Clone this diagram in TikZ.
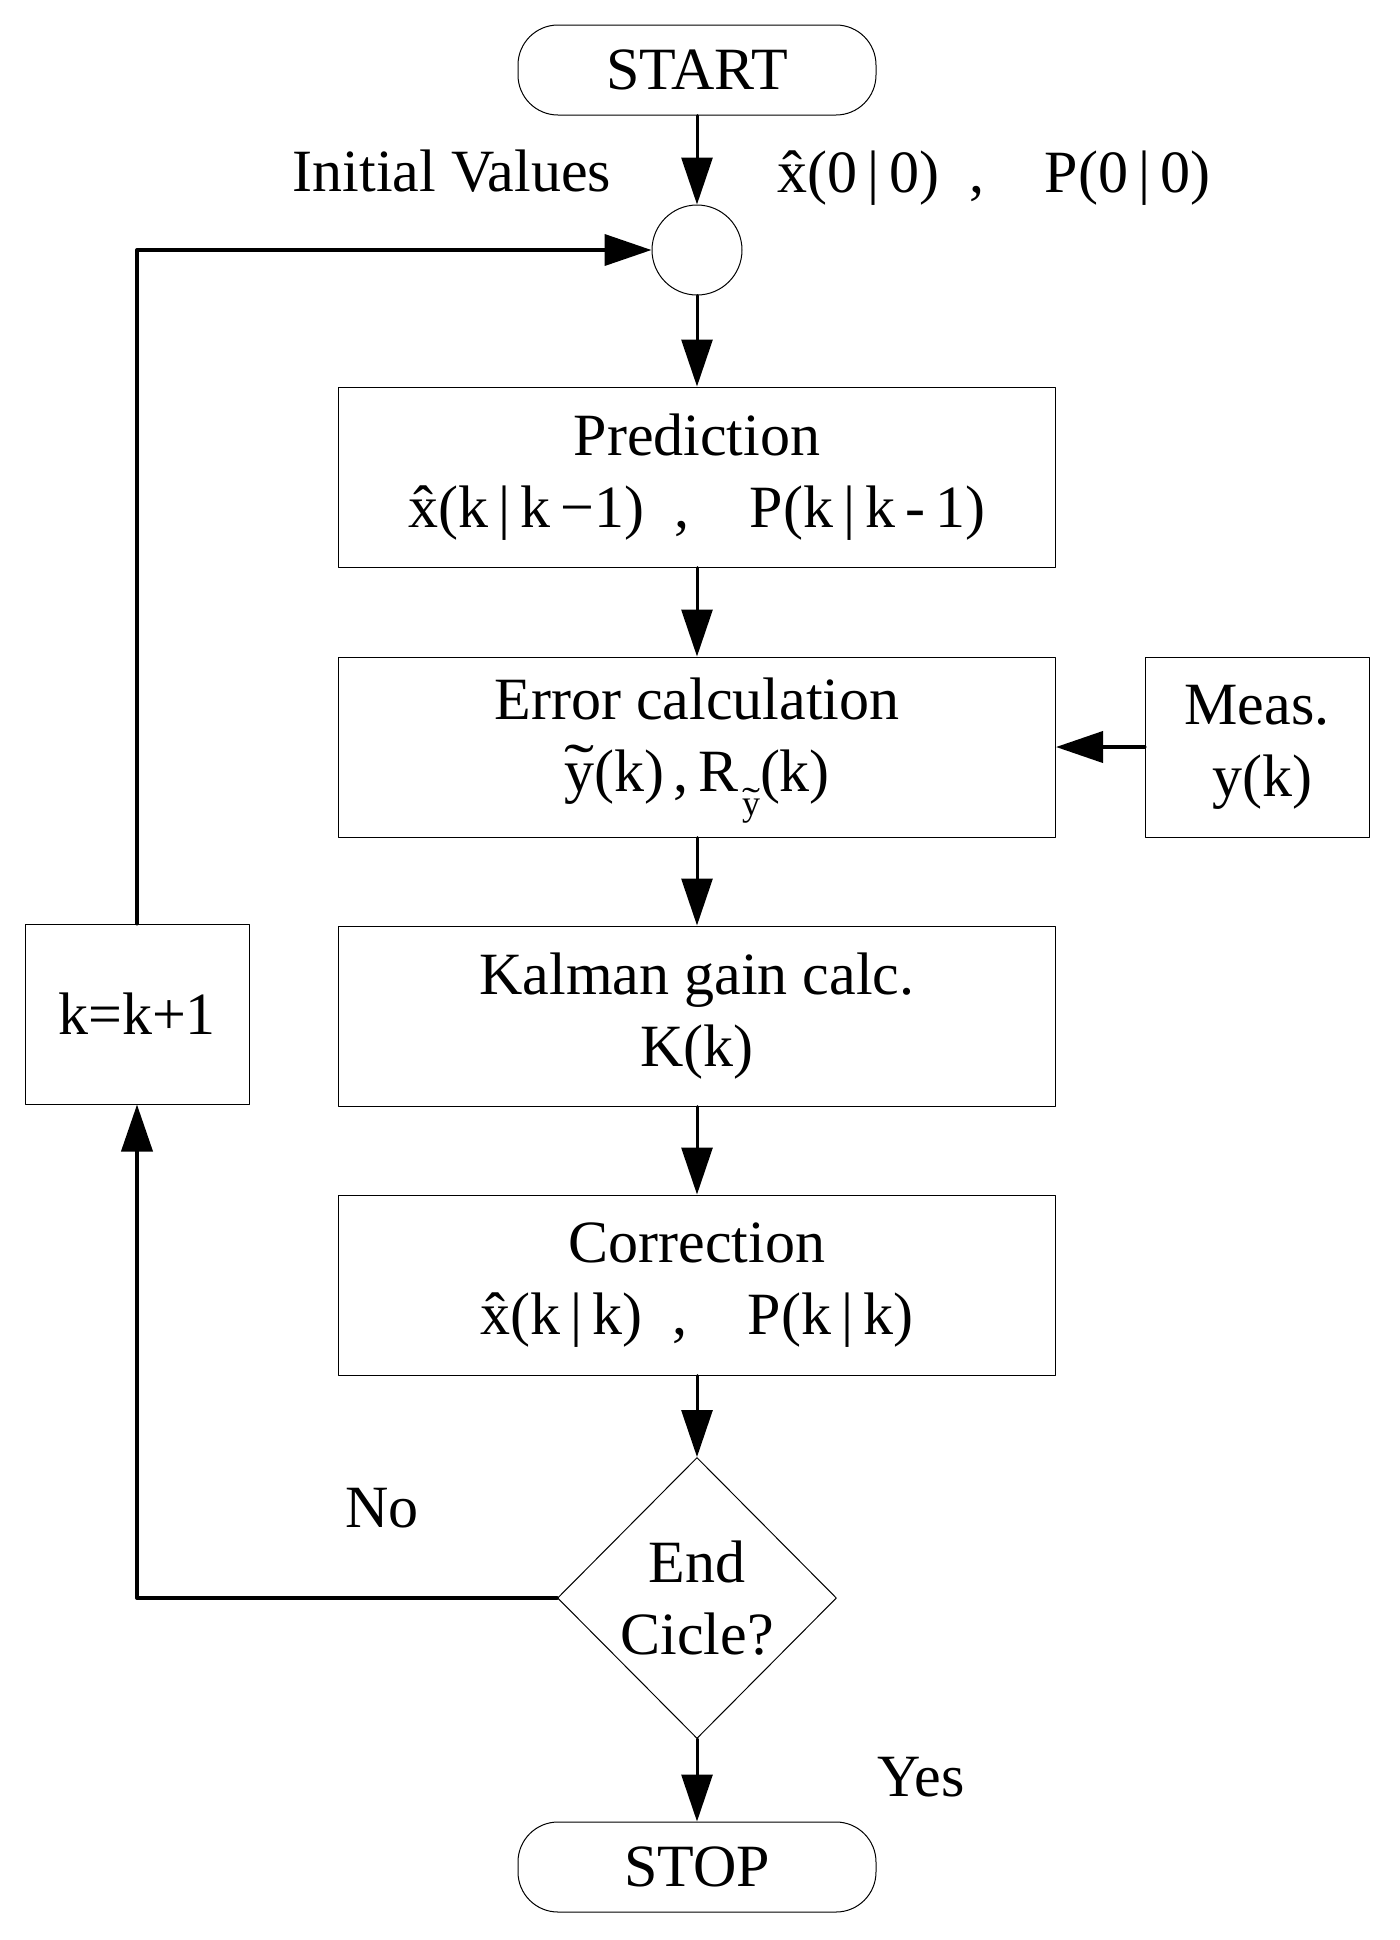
\documentclass[tikz,border=0pt]{standalone}
\usepackage{fontspec}
\setmainfont{Liberation Serif}
\usetikzlibrary{shapes.geometric,arrows.meta}

\newcommand{\xhat}{\ooalign{x\cr\hidewidth ˆ\hidewidth\cr}}
\newcommand{\ytil}{\ooalign{y\cr\hidewidth\raisebox{0.1em}{\scalebox{1.5}[1]{˜}}\hidewidth\cr}}

\begin{document}
\begin{tikzpicture}[x=0.5pt, y=-0.5pt, line cap=round, line join=round,
  font=\fontsize{30}{36}\selectfont,
  blk/.style={draw, line width=0.5pt, minimum width=358.5pt, minimum height=90pt, inner sep=0pt, align=center},
  side/.style={draw, line width=0.5pt, minimum width=112pt, minimum height=90pt, inner sep=0pt, align=center},
  term/.style={draw, rounded corners=20pt, line width=0.5pt, minimum width=179pt, minimum height=45pt, inner sep=0pt},
  sum/.style={draw, circle, line width=0.5pt, minimum size=45pt, inner sep=0pt},
  dec/.style={draw, diamond, line width=0.5pt, minimum width=139.5pt, minimum height=140.5pt, inner sep=0pt, align=center},
  arr/.style={line width=1.5pt, -{Triangle[length=23.5pt,width=15.5pt]}},
  fb/.style={line width=2pt}]

\useasboundingbox (0,0) rectangle (1400,1940);

% Terminals
\node[term] (start) at (697,70) {START};
\node[term] (stop) at (697,1867) {STOP};

% Summing point
\node[sum] (sum) at (697,250) {};

% Blocks
\node[blk] (pred) at (697,477) {Prediction\\ \xhat(k\,|\,k\,−1)\enspace,\quad P(k\,|\,k\,-\,1)};
\node[blk] (err) at (697,747) {Error calculation\\ \ytil(k)\,,\,R\kern0.05em\raisebox{-0.4em}{\fontsize{18}{18}\selectfont\ytil}(k)};
\node[blk] (kal) at (697,1016) {Kalman gain calc.\\ K(k)};
\node[blk] (corr) at (697,1285) {Correction\\ \xhat(k\,|\,k)\enspace,\quad P(k\,|\,k)};
\node[side] (meas) at (1257,747) {Meas.\\ \,y(k)};
\node[side] (inc) at (137,1014) {k=k+1};

% Decision
\node[dec] (end) at (697,1598) {End\\ Cicle?};

% Arrows
\draw[arr] (start.south) -- (sum.north);
\draw[arr] (sum.south) -- (pred.north);
\draw[arr] (pred.south) -- (err.north);
\draw[arr, fb] (meas.west) -- (err.east);
\draw[arr] (err.south) -- (kal.north);
\draw[arr] (kal.south) -- (corr.north);
\draw[arr] (corr.south) -- (end.north);
\draw[arr] (end.south) -- (stop.north);
\draw[arr, fb] (end.west) -| (inc.south);
\draw[arr, fb] (inc.north) |- (sum.west);

% Labels
\node[anchor=base] (init) at (452,191) {Initial Values};
\node[anchor=base] (x0) at (994,192) {\xhat(0\,|\,0)\enspace,\quad P(0\,|\,0)};
\node[anchor=base] (no) at (382,1527) {No};
\node[anchor=base] (yes) at (921,1796) {Yes};

\end{tikzpicture}
\end{document}
